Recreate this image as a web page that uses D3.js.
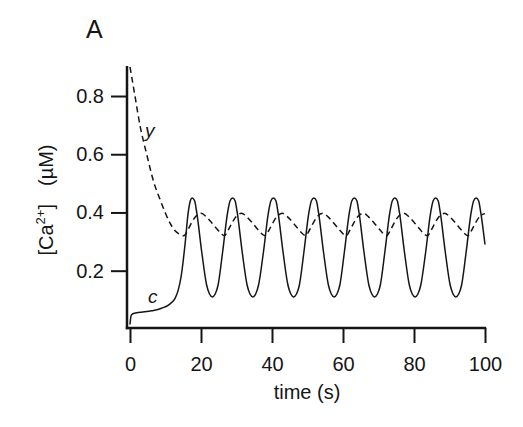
<!DOCTYPE html>
<html>
<head>
<meta charset="utf-8">
<script src="https://cdn.jsdelivr.net/npm/d3@7"></script>
<style>
  body { margin: 0; background: #fff; }
  svg { display: block; font-family: "Liberation Sans", Arial, sans-serif; }
</style>
</head>
<body>
<svg id="chart" width="523" height="427"></svg>
<script>
// free cytosolic Ca2+ (c, solid) and the slow variable y (dashed)
const cTime = [0, 0.3, 0.8, 2.3, 6.1, 8.9, 11.3, 12.7, 13.6, 14.4, 15.0, 15.5, 16.4, 17.0,
  17.5, 18.2, 18.8, 20.2, 21.6, 22.4, 23.2, 24.0, 24.8, 26.1, 27.5, 28.2,
  28.9, 29.6, 30.2, 31.6, 33.0, 33.8, 34.6, 35.4, 36.2, 37.6, 39.0, 39.7,
  40.4, 41.1, 41.7, 43.1, 44.5, 45.3, 46.1, 46.9, 47.7, 49.0, 50.4, 51.1,
  51.8, 52.5, 53.1, 54.5, 55.9, 56.7, 57.5, 58.3, 59.1, 60.4, 61.8, 62.5,
  63.2, 63.9, 64.5, 65.9, 67.3, 68.1, 68.9, 69.7, 70.5, 71.8, 73.2, 73.9,
  74.6, 75.3, 75.9, 77.3, 78.7, 79.5, 80.3, 81.1, 81.9, 83.3, 84.7, 85.4,
  86.1, 86.8, 87.4, 88.8, 90.2, 91.0, 91.8, 92.6, 93.4, 94.7, 96.1, 96.8,
  97.5, 98.2, 98.8, 100];
const cValue = [0.015, 0.045, 0.052, 0.056, 0.062, 0.071, 0.086, 0.105, 0.134, 0.18, 0.235, 0.29, 0.40, 0.44,
  0.45, 0.44, 0.40, 0.265, 0.15, 0.12, 0.11, 0.12, 0.15, 0.265, 0.40, 0.44,
  0.45, 0.44, 0.40, 0.265, 0.15, 0.12, 0.11, 0.12, 0.15, 0.265, 0.40, 0.44,
  0.45, 0.44, 0.40, 0.265, 0.15, 0.12, 0.11, 0.12, 0.15, 0.265, 0.40, 0.44,
  0.45, 0.44, 0.40, 0.265, 0.15, 0.12, 0.11, 0.12, 0.15, 0.265, 0.40, 0.44,
  0.45, 0.44, 0.40, 0.265, 0.15, 0.12, 0.11, 0.12, 0.15, 0.265, 0.40, 0.44,
  0.45, 0.44, 0.40, 0.265, 0.15, 0.12, 0.11, 0.12, 0.15, 0.265, 0.40, 0.44,
  0.45, 0.44, 0.40, 0.265, 0.15, 0.12, 0.11, 0.12, 0.15, 0.265, 0.40, 0.44,
  0.45, 0.44, 0.40, 0.29];

const yTime = [0, 0.7, 1.4, 2.8, 4.7, 6.8, 8.3, 9.9, 11.2, 12.7, 14.0,
  15.2, 16.2, 17.5, 18.5, 20.0, 21.5, 23.0, 24.5, 25.7,
  26.6, 27.6, 28.9, 29.9, 31.4, 32.9, 34.4, 35.9, 37.1,
  38.1, 39.1, 40.4, 41.4, 42.9, 44.4, 45.9, 47.4, 48.6,
  49.5, 50.5, 51.8, 52.8, 54.3, 55.8, 57.3, 58.8, 60.0,
  60.9, 61.9, 63.2, 64.2, 65.7, 67.2, 68.7, 70.2, 71.4,
  72.3, 73.3, 74.6, 75.6, 77.1, 78.6, 80.1, 81.6, 82.8,
  83.8, 84.8, 86.1, 87.1, 88.6, 90.1, 91.6, 93.1, 94.3,
  95.2, 96.2, 97.5, 98.5, 100];
const yValue = [0.9, 0.85, 0.8, 0.7, 0.6, 0.5, 0.45, 0.4, 0.365, 0.337, 0.325,
  0.32, 0.338, 0.368, 0.386, 0.397, 0.385, 0.365, 0.343, 0.327,
  0.32, 0.338, 0.368, 0.386, 0.397, 0.385, 0.365, 0.343, 0.327,
  0.32, 0.338, 0.368, 0.386, 0.397, 0.385, 0.365, 0.343, 0.327,
  0.32, 0.338, 0.368, 0.386, 0.397, 0.385, 0.365, 0.343, 0.327,
  0.32, 0.338, 0.368, 0.386, 0.397, 0.385, 0.365, 0.343, 0.327,
  0.32, 0.338, 0.368, 0.386, 0.397, 0.385, 0.365, 0.343, 0.327,
  0.32, 0.338, 0.368, 0.386, 0.397, 0.385, 0.365, 0.343, 0.327,
  0.32, 0.338, 0.368, 0.386, 0.396];

const xTicks = [0, 20, 40, 60, 80, 100];
const yTicks = [0.2, 0.4, 0.6, 0.8];

const svg = d3.select("#chart");
const ink = "#151515";

let xMap = d3.scaleLinear().domain([0, 100]).range([130, 485]);
let yMap = d3.scaleLinear().domain([0, 0.9]).range([328.9, 66.9]);

// axes (lines drawn by hand so they meet in the corner like the original)
let xAxis = svg.append("g")
    .attr("transform", "translate(0,328)")
    .call(d3.axisBottom(xMap).tickValues(xTicks).tickSize(15).tickPadding(14).tickFormat(d3.format("d")));
let yAxis = svg.append("g")
    .attr("transform", "translate(127,0)")
    .call(d3.axisLeft(yMap).tickValues(yTicks).tickSize(16).tickPadding(7).tickFormat(d3.format(".1f")));

[xAxis, yAxis].forEach(g => {
    g.select(".domain").remove();
    g.selectAll(".tick line").attr("stroke", ink).attr("stroke-width", 2);
    g.selectAll(".tick text").attr("fill", ink)
        .style("font-family", '"Liberation Sans", Arial, sans-serif')
        .style("font-size", "20px");
});

svg.append("line")
    .attr("x1", 127).attr("x2", 127)
    .attr("y1", yMap(0.9) - 1).attr("y2", 329.2)
    .attr("stroke", ink).attr("stroke-width", 2.5);
svg.append("line")
    .attr("x1", 125.8).attr("x2", xMap(100) + 1.2)
    .attr("y1", 328).attr("y2", 328)
    .attr("stroke", ink).attr("stroke-width", 2.5);

// curves
let line = d3.line()
    .x(d => xMap(d[0]))
    .y(d => yMap(d[1]))
    .curve(d3.curveMonotoneX);

let yData = yTime.map((t, i) => [t, yValue[i]]);
let cData = cTime.map((t, i) => [t, cValue[i]]);

svg.append("path")
    .attr("d", line(yData))
    .attr("fill", "none")
    .attr("stroke", ink)
    .attr("stroke-width", 1.5)
    .attr("stroke-dasharray", "6,4");

svg.append("path")
    .attr("d", line(cData))
    .attr("fill", "none")
    .attr("stroke", ink)
    .attr("stroke-width", 1.5);

// curve labels
svg.append("text").attr("x", 145).attr("y", 137)
    .attr("font-size", 19).attr("font-style", "italic").attr("fill", ink)
    .text("y");
svg.append("text").attr("x", 148).attr("y", 303)
    .attr("font-size", 19).attr("font-style", "italic").attr("fill", ink)
    .text("c");

// panel letter
svg.append("text").attr("x", 86).attr("y", 38)
    .attr("font-size", 25).attr("fill", ink)
    .text("A");

// axis titles
svg.append("text")
    .attr("x", 307).attr("y", 399)
    .attr("text-anchor", "middle")
    .attr("font-size", 20).attr("fill", ink)
    .text("time (s)");

let yTitle = svg.append("text")
    .attr("transform", "translate(53,200) rotate(-90)")
    .attr("text-anchor", "middle")
    .attr("font-size", 20).attr("fill", ink);
yTitle.append("tspan").text("[Ca");
yTitle.append("tspan").attr("dy", -8).attr("font-size", 13).text("2+");
yTitle.append("tspan").attr("dy", 8).text("]");
yTitle.append("tspan").attr("dx", 18).text("(\u00b5M)");
</script>
</body>
</html>
